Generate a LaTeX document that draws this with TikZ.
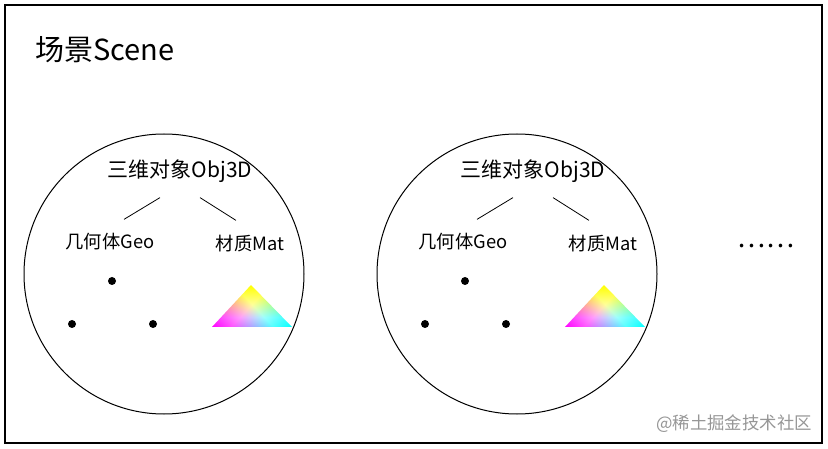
\documentclass[tikz,border=0pt]{standalone}
\usepackage{fontspec}
\setmainfont{Noto Sans CJK SC}
\usetikzlibrary{calc}
\pgfdeclarefunctionalshading{rgbtri}{\pgfpoint{0bp}{0bp}}{\pgfpoint{100bp}{100bp}}{}{
 25 sub 50 div exch 25 sub 50 div exch
 2 copy 2 div add
 3 1 roll
 dup 1 exch sub
 4 1 roll
 2 div exch sub 1 add
 exch 3 -1 roll
 1.3 mul 3 1 roll 1.3 mul 3 1 roll 1.3 mul 3 1 roll
}
\definecolor{wmgray}{RGB}{150,150,150}
\tikzset{
  frame/.style={draw=black, line width=2pt},
  world/.style={circle, draw=black, line width=1pt, minimum size=280pt, inner sep=0pt},
  title/.style={font=\fontsize{29}{34}\selectfont, inner sep=0pt, anchor=west},
  objtxt/.style={font=\fontsize{21}{25}\selectfont, inner sep=0pt},
  subtxt/.style={font=\fontsize{18.3}{22}\selectfont, inner sep=0pt},
  link/.style={draw=black, line width=0.8pt},
  vertex/.style={fill=black},
  wm/.style={font=\fontsize{17.4}{20}\selectfont, text=wmgray, inner sep=0pt},
}
\begin{document}
\begin{tikzpicture}[x=1pt, y=-1pt]
\useasboundingbox (0,0) rectangle (828,449);
\draw[frame] (5,5) rectangle (822,443);
\node[title] (scene) at (35,50) {场景Scene};
% world 1
\node[world] (c1) at (164,274) {};
\node[objtxt] (obj1) at (180,171) {三维对象Obj3D};
\node[subtxt] (geo1) at (110,242) {几何体Geo};
\node[subtxt] (mat1) at (250,244) {材质Mat};
\draw[link] ($(obj1.south)+(-20,15)$) -- ($(geo1.north)+(14,-14)$);
\draw[link] ($(obj1.south)+(20,15)$) -- ($(mat1.north)+(-14,-15)$);
\fill[vertex] (112,281) circle (4);
\fill[vertex] (72,324) circle (4);
\fill[vertex] (153,324) circle (4);
\shade[shading=rgbtri] (251,285) -- (212,327) -- (292,327) -- cycle;
% world 2
\node[world] (c2) at (517,274) {};
\node[objtxt] (obj2) at (533,171) {三维对象Obj3D};
\node[subtxt] (geo2) at (463,242) {几何体Geo};
\node[subtxt] (mat2) at (603,244) {材质Mat};
\draw[link] ($(obj2.south)+(-20,15)$) -- ($(geo2.north)+(14,-14)$);
\draw[link] ($(obj2.south)+(20,15)$) -- ($(mat2.north)+(-14,-15)$);
\fill[vertex] (465,281) circle (4);
\fill[vertex] (425,324) circle (4);
\fill[vertex] (506,324) circle (4);
\shade[shading=rgbtri] (604,285) -- (565,327) -- (645,327) -- cycle;
% ellipsis
\node[font=\fontsize{26.5}{30}\selectfont, inner sep=0pt] (more) at (766,246) {……};
% watermark
\node[wm, anchor=east] (mark) at (812,424) {@稀土掘金技术社区};
\end{tikzpicture}
\end{document}
